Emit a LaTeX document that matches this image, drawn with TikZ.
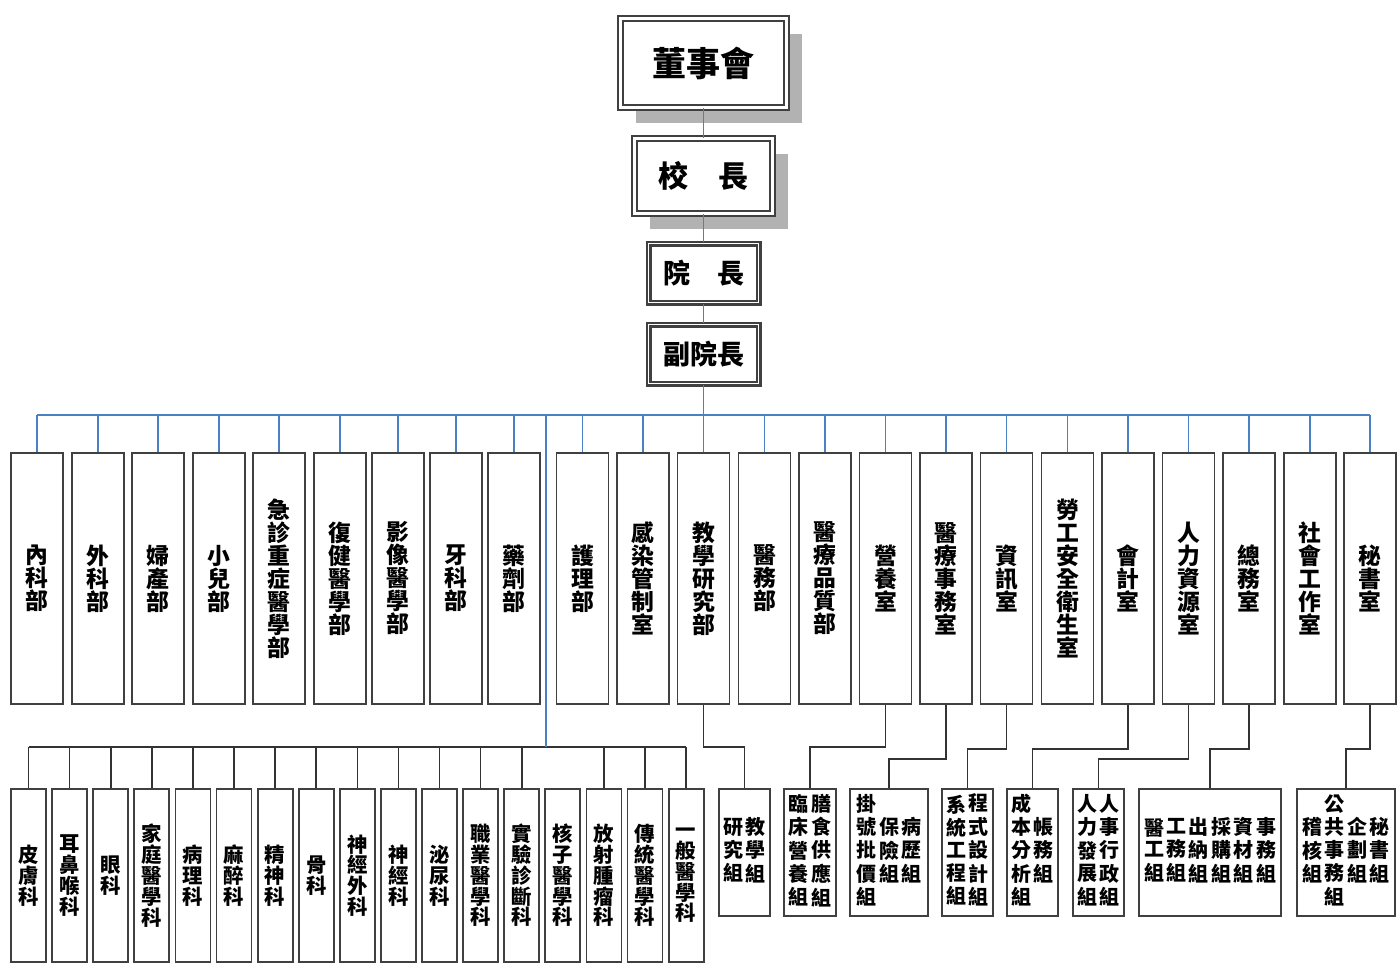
\documentclass[tikz,border=0pt]{standalone}
\usepackage{fontspec}
\setmainfont{Noto Sans CJK TC}
\usepackage{tikz}
\usetikzlibrary{shadows}
\definecolor{linkblue}{RGB}{74,128,196}
\newcommand{\vcol}[1]{\begin{tabular}[c]{@{\hspace{0.6pt}}c@{\hspace{0.6pt}}}#1\end{tabular}}
\tikzset{
  topbox/.style={draw=black!75,double=white,double distance=1.9pt,line width=0.8pt,fill=white,inner sep=0pt},
  heavybox/.style={topbox,line width=1.1pt,double distance=0.8pt},
  shade/.style={drop shadow={shadow xshift=7.5pt,shadow yshift=-7.5pt,fill=black!30,opacity=1}},
  dept/.style={draw=black!75,line width=0.9pt,fill=white,inner sep=0pt,align=center,
    minimum width=26pt,minimum height=125.5pt,font=\bfseries\fontsize{11.4}{11.5}\selectfont},
  ke/.style={dept,minimum width=17.5pt,minimum height=86.5pt,font=\bfseries\fontsize{10.2}{10.4}\selectfont},
  grp/.style={dept,minimum height=63.5pt,font=\bfseries\fontsize{10}{10.4}\selectfont},
  bluelink/.style={linkblue,line width=0.8pt},
  link/.style={black!80,line width=0.8pt}
}
\begin{document}
\begin{tikzpicture}[x=0.5pt,y=-0.5pt]
    \useasboundingbox (0,0) rectangle (1397,965);
    % top of the chart
    \node[topbox,shade,minimum width=83pt,minimum height=44.5pt,font=\bfseries\fontsize{17}{20}\selectfont] (board) at (703.5,63) {董事會};
    \node[topbox,shade,minimum width=69pt,minimum height=37.5pt,font=\bfseries\fontsize{15}{18}\selectfont] (pres) at (703.5,176) {校　長};
    \node[heavybox,minimum width=55pt,minimum height=29.5pt,font=\bfseries\fontsize{13.5}{16}\selectfont] (dean) at (703.5,273) {院　長};
    \node[heavybox,minimum width=55pt,minimum height=29.5pt,font=\bfseries\fontsize{13.5}{16}\selectfont] (vdean) at (703.5,354) {副院長};
    % departments
    \node[dept] (m1) at (37,578.5) {內\\科\\部};
    \node[dept] (m2) at (98,578.5) {外\\科\\部};
    \node[dept] (m3) at (158,578.5) {婦\\產\\部};
    \node[dept] (m4) at (219,578.5) {小\\兒\\部};
    \node[dept] (m5) at (279,578.5) {急\\診\\重\\症\\醫\\學\\部};
    \node[dept] (m6) at (340,578.5) {復\\健\\醫\\學\\部};
    \node[dept] (m7) at (398,578.5) {影\\像\\醫\\學\\部};
    \node[dept] (m8) at (456,578.5) {牙\\科\\部};
    \node[dept] (m9) at (514,578.5) {藥\\劑\\部};
    \node[dept] (m10) at (582.5,578.5) {護\\理\\部};
    \node[dept] (m11) at (643,578.5) {感\\染\\管\\制\\室};
    \node[dept] (m12) at (703.5,578.5) {教\\學\\研\\究\\部};
    \node[dept] (m13) at (764.5,578.5) {醫\\務\\部};
    \node[dept] (m14) at (825,578.5) {醫\\療\\品\\質\\部};
    \node[dept] (m15) at (885.5,578.5) {營\\養\\室};
    \node[dept] (m16) at (946,578.5) {醫\\療\\事\\務\\室};
    \node[dept] (m17) at (1006.5,578.5) {資\\訊\\室};
    \node[dept] (m18) at (1067.5,578.5) {勞\\工\\安\\全\\衛\\生\\室};
    \node[dept] (m19) at (1128,578.5) {會\\計\\室};
    \node[dept] (m20) at (1188.5,578.5) {人\\力\\資\\源\\室};
    \node[dept] (m21) at (1249,578.5) {總\\務\\室};
    \node[dept] (m22) at (1310,578.5) {社\\會\\工\\作\\室};
    \node[dept] (m23) at (1370,578.5) {秘\\書\\室};
    % clinical sections
    \node[ke] (k1) at (28.5,875.5) {皮\\膚\\科};
    \node[ke] (k2) at (69.6,875.5) {耳\\鼻\\喉\\科};
    \node[ke] (k3) at (110.7,875.5) {眼\\科};
    \node[ke] (k4) at (151.8,875.5) {家\\庭\\醫\\學\\科};
    \node[ke] (k5) at (192.9,875.5) {病\\理\\科};
    \node[ke] (k6) at (234,875.5) {麻\\醉\\科};
    \node[ke] (k7) at (275.1,875.5) {精\\神\\科};
    \node[ke] (k8) at (316.2,875.5) {骨\\科};
    \node[ke] (k9) at (357.3,875.5) {神\\經\\外\\科};
    \node[ke] (k10) at (398.4,875.5) {神\\經\\科};
    \node[ke] (k11) at (439.5,875.5) {泌\\尿\\科};
    \node[ke] (k12) at (480.6,875.5) {職\\業\\醫\\學\\科};
    \node[ke] (k13) at (521.7,875.5) {實\\驗\\診\\斷\\科};
    \node[ke] (k14) at (562.8,875.5) {核\\子\\醫\\學\\科};
    \node[ke] (k15) at (603.9,875.5) {放\\射\\腫\\瘤\\科};
    \node[ke] (k16) at (645,875.5) {傳\\統\\醫\\學\\科};
    \node[ke] (k17) at (686.1,875.5) {一\\般\\醫\\學\\科};
    % groups
    \node[grp,minimum width=25.5pt] (g1) at (744.5,852.5) {\vcol{研\\究\\組}\vcol{教\\學\\組}};
    \node[grp,minimum width=26pt] (g2) at (810,852.5) {\vcol{臨\\床\\營\\養\\組}\vcol{膳\\食\\供\\應\\組}};
    \node[grp,minimum width=39pt] (g3) at (889,852.5) {\vcol{掛\\號\\批\\價\\組}\vcol{保\\險\\組}\vcol{病\\歷\\組}};
    \node[grp,minimum width=25.5pt] (g4) at (967.5,852.5) {\vcol{系\\統\\工\\程\\組}\vcol{程\\式\\設\\計\\組}};
    \node[grp,minimum width=25.5pt] (g5) at (1032.5,852.5) {\vcol{成\\本\\分\\析\\組}\vcol{帳\\務\\組}};
    \node[grp,minimum width=25.5pt] (g6) at (1098.5,852.5) {\vcol{人\\力\\發\\展\\組}\vcol{人\\事\\行\\政\\組}};
    \node[grp,minimum width=71pt] (g7) at (1210,852.5) {\vcol{醫\\工\\組}\vcol{工\\務\\組}\vcol{出\\納\\組}\vcol{採\\購\\組}\vcol{資\\材\\組}\vcol{事\\務\\組}};
    \node[grp,minimum width=49pt] (g8) at (1346,852.5) {\vcol{稽\\核\\組}\vcol{公\\共\\事\\務\\組}\vcol{企\\劃\\組}\vcol{秘\\書\\組}};
    % blue lines from the top
    \draw[bluelink] (board) -- (pres);
    \draw[bluelink] (pres) -- (dean);
    \draw[bluelink] (dean) -- (vdean);
    \coordinate (bus) at (703.5,415);
    \coordinate (kbus) at (546,747);
    \draw[bluelink] (vdean) -- (bus);
    \draw[bluelink] (m1.north |- bus) -- (m23.north |- bus);
    \foreach \i in {1,...,23} \draw[bluelink] (m\i.north |- bus) -- (m\i.north);
    % clinical sections bus
    \draw[link] (k1.north |- kbus) -- (k17.north |- kbus);
    \foreach \i in {1,...,13,15,16,17} \draw[link] (k\i.north |- kbus) -- (k\i.north);
    \draw[bluelink] (bus -| kbus) -- (kbus);
    % groups under the offices
    \draw[link] (m12.south) -- ++(0,42) -| (g1.north);
    \draw[link] (m15.south) -- ++(0,42) -| (g2.north);
    \draw[link] (m16.south) -- ++(0,54) -| (g3.north);
    \draw[link] (m17.south) -- ++(0,44) -| (g4.north);
    \draw[link] (m19.south) -- ++(0,44) -| (g5.north);
    \draw[link] (m20.south) -- ++(0,54) -| (g6.north);
    \draw[link] (m21.south) -- ++(0,44) -| (g7.north);
    \draw[link] (m23.south) -- ++(0,44) -| (g8.north);
\end{tikzpicture}
\end{document}
